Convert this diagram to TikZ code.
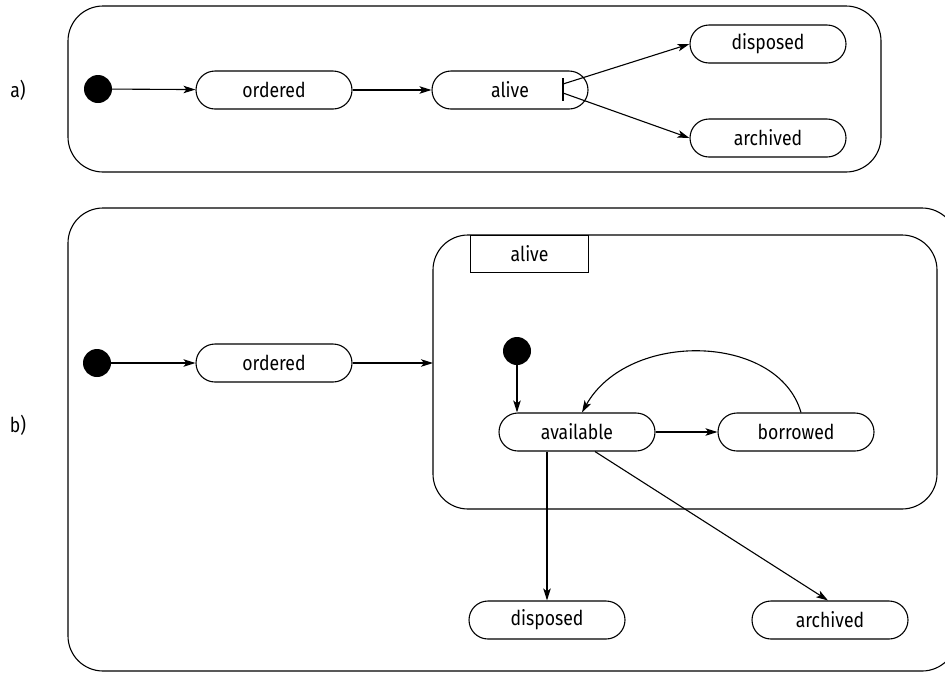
\documentclass[tikz,border=0pt]{standalone}
\usepackage{fontspec}
\setmainfont{Fira Sans}[FakeStretch=0.86]
\usetikzlibrary{arrows.meta}
\begin{document}
\begin{tikzpicture}[x=1pt,y=-1pt,
  every node/.style={font=\fontsize{20.5}{24}\selectfont},
  st/.style={draw,line width=1.1pt,rounded corners=19pt,minimum width=156pt,minimum height=38pt,inner sep=0pt},
  init/.style={circle,fill=black,minimum size=28pt,inner sep=0pt},
  box/.style={draw,line width=1.1pt,rounded corners=35pt},
  tr/.style={draw,line width=1.1pt,-{Stealth[length=12pt,width=7.5pt,inset=3pt]}},
  lbl/.style={anchor=center}]
\useasboundingbox (0,0) rectangle (945,673);
% ---------- a) ----------
\node[lbl] (la) at (18,90) {a)};
\draw[box] (68,6) rectangle (881,172);
\node[init] (ia) at (98,89) {};
\node[st] (orda) at (274,90) {ordered};
\node[st] (alivea) at (510,90) {alive};
\node[st] (dispa) at (768,44) {disposed};
\node[st] (archa) at (768,138) {archived};
\coordinate (bartop) at (563,78);
\coordinate (barbot) at (563,101);
\coordinate (fork1) at (563,84);
\coordinate (fork2) at (563,93);
\draw[line width=1.1pt] (bartop) -- (barbot);
\draw[tr] (ia) -- (orda);
\draw[tr] (orda) -- (alivea);
\draw[tr] (fork1) -- (dispa.west);
\draw[tr] (fork2) -- (archa.west);
% ---------- b) ----------
\node[lbl] (lb) at (18,425) {b)};
\draw[box] (68,208) rectangle (957,671);
\node[init] (ib) at (97,363) {};
\node[st] (ordb) at (274,363) {ordered};
\draw[box] (433,235) rectangle (937,509);
\node[draw,line width=1.1pt,minimum width=118pt,minimum height=37pt,inner sep=0pt,anchor=north west] (tab) at (470,235) {alive};
\coordinate (aliveleft) at (433,363);
\node[init] (ic) at (517,351) {};
\node[st] (avail) at (577,432) {available};
\node[st] (borr) at (796,432) {borrowed};
\node[st] (dispb) at (547,620) {disposed};
\node[st] (archb) at (830,620) {archived};
\draw[tr] (ib) -- (ordb);
\draw[tr] (ordb) -- (aliveleft);
\draw[tr] (ic) -- (avail.north -| ic);
\draw[tr] (avail) -- (borr);
\draw[tr] ([xshift=5pt]borr.north) .. controls (778,333) and (628,330) .. ([xshift=5pt]avail.north);
\draw[tr] (avail.south -| dispb.north) -- (dispb.north);
\draw[tr] ([xshift=18pt]avail.south) -- ([xshift=-2pt]archb.north);
\end{tikzpicture}
\end{document}
